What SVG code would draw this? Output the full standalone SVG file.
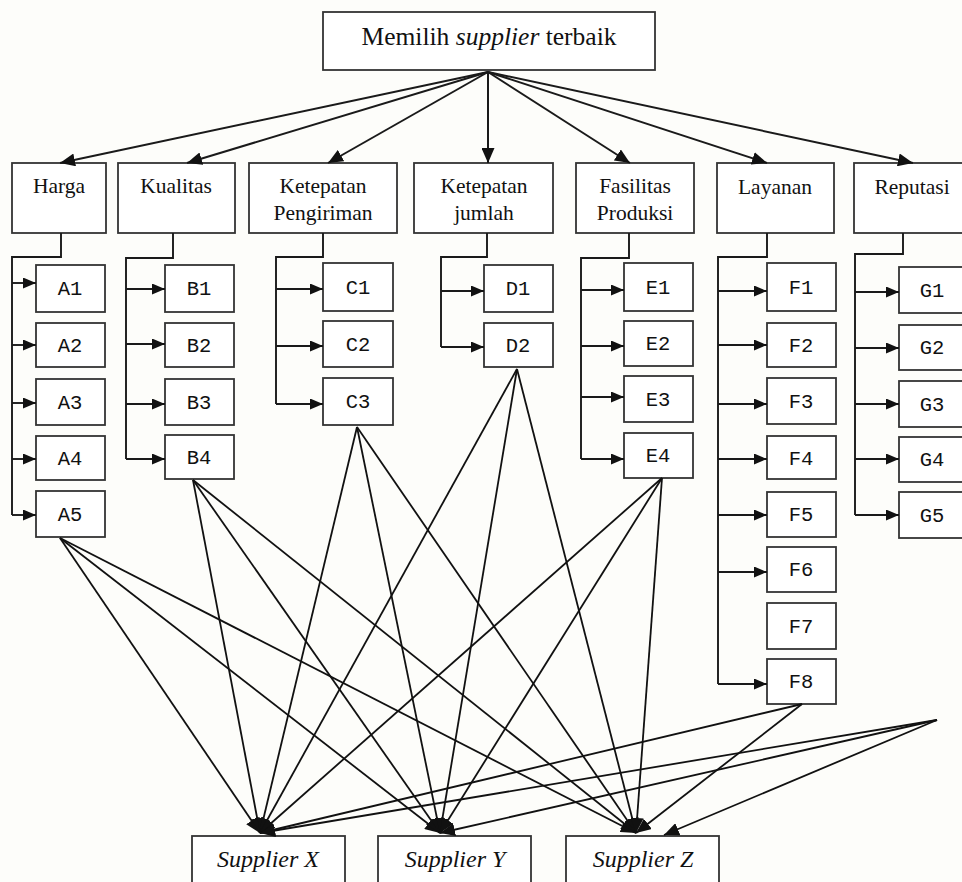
<svg xmlns="http://www.w3.org/2000/svg" width="962" height="882" viewBox="0 0 962 882">
<defs>
<marker id="ah" markerUnits="userSpaceOnUse" markerWidth="15" markerHeight="13" refX="15" refY="6.5" orient="auto"><path d="M0,0 L15,6.5 L0,13 z" fill="#111"/></marker>
<marker id="as" markerUnits="userSpaceOnUse" markerWidth="13" markerHeight="11" refX="13" refY="5.5" orient="auto"><path d="M0,0 L13,5.5 L0,11 z" fill="#111"/></marker>
<style>
.box{fill:#fff;stroke:#333;stroke-width:1.8}
.c{fill:none;stroke:#1a1a1a;stroke-width:1.9}
.a{fill:none;stroke:#1a1a1a;stroke-width:1.9;marker-end:url(#as)}
.t{fill:none;stroke:#1a1a1a;stroke-width:2;marker-end:url(#ah)}
.s{fill:none;stroke:#111;stroke-width:1.8;marker-end:url(#ah)}
.serif{font-family:"Liberation Serif","DejaVu Serif",serif;fill:#111;text-anchor:middle}
.crit{font-size:21.5px}
.mono{font-family:"Liberation Mono","DejaVu Sans Mono",monospace;font-size:20.5px;fill:#111;text-anchor:middle}
.sup{font-family:"Liberation Serif","DejaVu Serif",serif;font-style:italic;font-size:24px;fill:#111;text-anchor:middle}
</style>
</defs>
<rect width="962" height="882" fill="#fdfdfa"/>

<g id="goal"><rect class="box" x="323" y="12" width="332" height="58"/><text class="serif" x="489" y="45" font-size="25.5">Memilih <tspan font-style="italic">supplier</tspan> terbaik</text></g>

<g id="harga"><rect class="box" x="12" y="163" width="94" height="70"/><text class="serif crit" x="59" y="193">Harga</text></g>
<g id="kualitas"><rect class="box" x="118" y="163" width="117" height="70"/><text class="serif crit" x="176" y="193">Kualitas</text></g>
<g id="pengiriman"><rect class="box" x="249" y="163" width="148" height="70"/><text class="serif crit" x="323" y="193">Ketepatan</text><text class="serif crit" x="323" y="220">Pengiriman</text></g>
<g id="jumlah"><rect class="box" x="414" y="163" width="139" height="70"/><text class="serif crit" x="484" y="193">Ketepatan</text><text class="serif crit" x="484" y="220">jumlah</text></g>
<g id="fasilitas"><rect class="box" x="576" y="163" width="118" height="70"/><text class="serif crit" x="635" y="193">Fasilitas</text><text class="serif crit" x="635" y="220">Produksi</text></g>
<g id="layanan"><rect class="box" x="717" y="163" width="117" height="70"/><text class="serif crit" x="775" y="194">Layanan</text></g>
<g id="reputasi"><rect class="box" x="854" y="163" width="120" height="70"/><text class="serif crit" x="912" y="194">Reputasi</text></g>

<g id="A1"><rect class="box" x="36" y="265" width="69" height="47"/><text class="mono" x="70" y="295">A1</text></g>
<g id="A2"><rect class="box" x="36" y="323" width="69" height="44"/><text class="mono" x="70" y="352">A2</text></g>
<g id="A3"><rect class="box" x="36" y="379" width="69" height="46"/><text class="mono" x="70" y="409">A3</text></g>
<g id="A4"><rect class="box" x="36" y="436" width="69" height="44"/><text class="mono" x="70" y="465">A4</text></g>
<g id="A5"><rect class="box" x="36" y="491" width="69" height="46"/><text class="mono" x="70" y="521">A5</text></g>

<g id="B1"><rect class="box" x="165" y="265" width="69" height="47"/><text class="mono" x="199" y="295">B1</text></g>
<g id="B2"><rect class="box" x="165" y="323" width="69" height="44"/><text class="mono" x="199" y="352">B2</text></g>
<g id="B3"><rect class="box" x="165" y="379" width="69" height="46"/><text class="mono" x="199" y="409">B3</text></g>
<g id="B4"><rect class="box" x="165" y="435" width="69" height="44"/><text class="mono" x="199" y="464">B4</text></g>

<g id="C1"><rect class="box" x="323" y="263" width="70" height="48"/><text class="mono" x="358" y="294">C1</text></g>
<g id="C2"><rect class="box" x="323" y="321" width="70" height="46"/><text class="mono" x="358" y="351">C2</text></g>
<g id="C3"><rect class="box" x="323" y="378" width="70" height="47"/><text class="mono" x="358" y="408">C3</text></g>

<g id="D1"><rect class="box" x="484" y="265" width="69" height="47"/><text class="mono" x="518" y="295">D1</text></g>
<g id="D2"><rect class="box" x="484" y="323" width="69" height="44"/><text class="mono" x="518" y="352">D2</text></g>

<g id="E1"><rect class="box" x="624" y="263" width="69" height="48"/><text class="mono" x="658" y="294">E1</text></g>
<g id="E2"><rect class="box" x="624" y="321" width="69" height="45"/><text class="mono" x="658" y="350">E2</text></g>
<g id="E3"><rect class="box" x="624" y="376" width="69" height="46"/><text class="mono" x="658" y="406">E3</text></g>
<g id="E4"><rect class="box" x="624" y="433" width="69" height="45"/><text class="mono" x="658" y="462">E4</text></g>

<g id="F1"><rect class="box" x="767" y="263" width="69" height="48"/><text class="mono" x="801" y="294">F1</text></g>
<g id="F2"><rect class="box" x="767" y="323" width="69" height="44"/><text class="mono" x="801" y="352">F2</text></g>
<g id="F3"><rect class="box" x="767" y="378" width="69" height="46"/><text class="mono" x="801" y="408">F3</text></g>
<g id="F4"><rect class="box" x="767" y="436" width="69" height="43"/><text class="mono" x="801" y="465">F4</text></g>
<g id="F5"><rect class="box" x="767" y="492" width="69" height="45"/><text class="mono" x="801" y="521">F5</text></g>
<g id="F6"><rect class="box" x="767" y="547" width="69" height="45"/><text class="mono" x="801" y="576">F6</text></g>
<g id="F7"><rect class="box" x="767" y="603" width="69" height="46"/><text class="mono" x="801" y="633">F7</text></g>
<g id="F8"><rect class="box" x="767" y="659" width="69" height="45"/><text class="mono" x="801" y="688">F8</text></g>

<g id="G1"><rect class="box" x="899" y="267" width="75" height="46"/><text class="mono" x="932" y="297">G1</text></g>
<g id="G2"><rect class="box" x="899" y="325" width="75" height="45"/><text class="mono" x="932" y="354">G2</text></g>
<g id="G3"><rect class="box" x="899" y="381" width="75" height="46"/><text class="mono" x="932" y="411">G3</text></g>
<g id="G4"><rect class="box" x="899" y="437" width="75" height="45"/><text class="mono" x="932" y="466">G4</text></g>
<g id="G5"><rect class="box" x="899" y="492" width="75" height="46"/><text class="mono" x="932" y="522">G5</text></g>

<g id="supplierX"><rect class="box" x="192" y="836" width="153" height="60"/><text class="sup" x="268" y="867">Supplier X</text></g>
<g id="supplierY"><rect class="box" x="378" y="836" width="153" height="60"/><text class="sup" x="455" y="867">Supplier Y</text></g>
<g id="supplierZ"><rect class="box" x="566" y="836" width="153" height="60"/><text class="sup" x="643" y="867">Supplier Z</text></g>

<g id="connectors">
<path class="t" d="M488,72 L60,163"/>
<path class="t" d="M488,72 L187,163"/>
<path class="t" d="M488,72 L328,163"/>
<path class="t" d="M488,72 L488,163"/>
<path class="t" d="M488,72 L630,163"/>
<path class="t" d="M488,72 L767,163"/>
<path class="t" d="M488,72 L913,163"/>

<path class="c" d="M61,233 V257 H12 V515"/>
<path class="a" d="M12,283 H36"/><path class="a" d="M12,345 H36"/><path class="a" d="M12,403 H36"/><path class="a" d="M12,459 H36"/><path class="a" d="M12,515 H36"/>

<path class="c" d="M173,233 V258 H126 V459"/>
<path class="a" d="M126,289 H165"/><path class="a" d="M126,344 H165"/><path class="a" d="M126,404 H165"/><path class="a" d="M126,459 H165"/>

<path class="c" d="M323,233 V257 H276 V404"/>
<path class="a" d="M276,289 H323"/><path class="a" d="M276,346 H323"/><path class="a" d="M276,404 H323"/>

<path class="c" d="M487,233 V257 H441 V347"/>
<path class="a" d="M441,291 H484"/><path class="a" d="M441,347 H484"/>

<path class="c" d="M629,233 V258 H581 V459"/>
<path class="a" d="M581,290 H624"/><path class="a" d="M581,346 H624"/><path class="a" d="M581,397 H624"/><path class="a" d="M581,459 H624"/>

<path class="c" d="M767,233 V257 H718 V684"/>
<path class="a" d="M718,291 H767"/><path class="a" d="M718,345 H767"/><path class="a" d="M718,404 H767"/><path class="a" d="M718,459 H767"/><path class="a" d="M718,515 H767"/><path class="a" d="M718,572 H767"/><path class="a" d="M718,684 H767"/>

<path class="c" d="M903,233 V254 H855 V515"/>
<path class="a" d="M855,292 H899"/><path class="a" d="M855,348 H899"/><path class="a" d="M855,404 H899"/><path class="a" d="M855,459 H899"/><path class="a" d="M855,515 H899"/>

<path class="s" d="M60,538 L260,833"/><path class="s" d="M60,538 L440,833"/><path class="s" d="M60,538 L636,833"/>
<path class="s" d="M193,480 L260,833"/><path class="s" d="M193,480 L440,833"/><path class="s" d="M193,480 L636,833"/>
<path class="s" d="M357,427 L260,833"/><path class="s" d="M357,427 L440,833"/><path class="s" d="M357,427 L636,833"/>
<path class="s" d="M517,369 L260,833"/><path class="s" d="M517,369 L440,833"/><path class="s" d="M517,369 L636,833"/>
<path class="s" d="M662,478 L260,833"/><path class="s" d="M662,478 L440,833"/><path class="s" d="M662,478 L636,833"/>
<path class="s" d="M802,704 L260,833"/><path class="s" d="M802,704 L636,833"/>
<path class="s" d="M937,720 L260,833"/><path class="s" d="M937,720 L440,833"/><path class="s" d="M937,720 L664,835"/>
</g>
</svg>
